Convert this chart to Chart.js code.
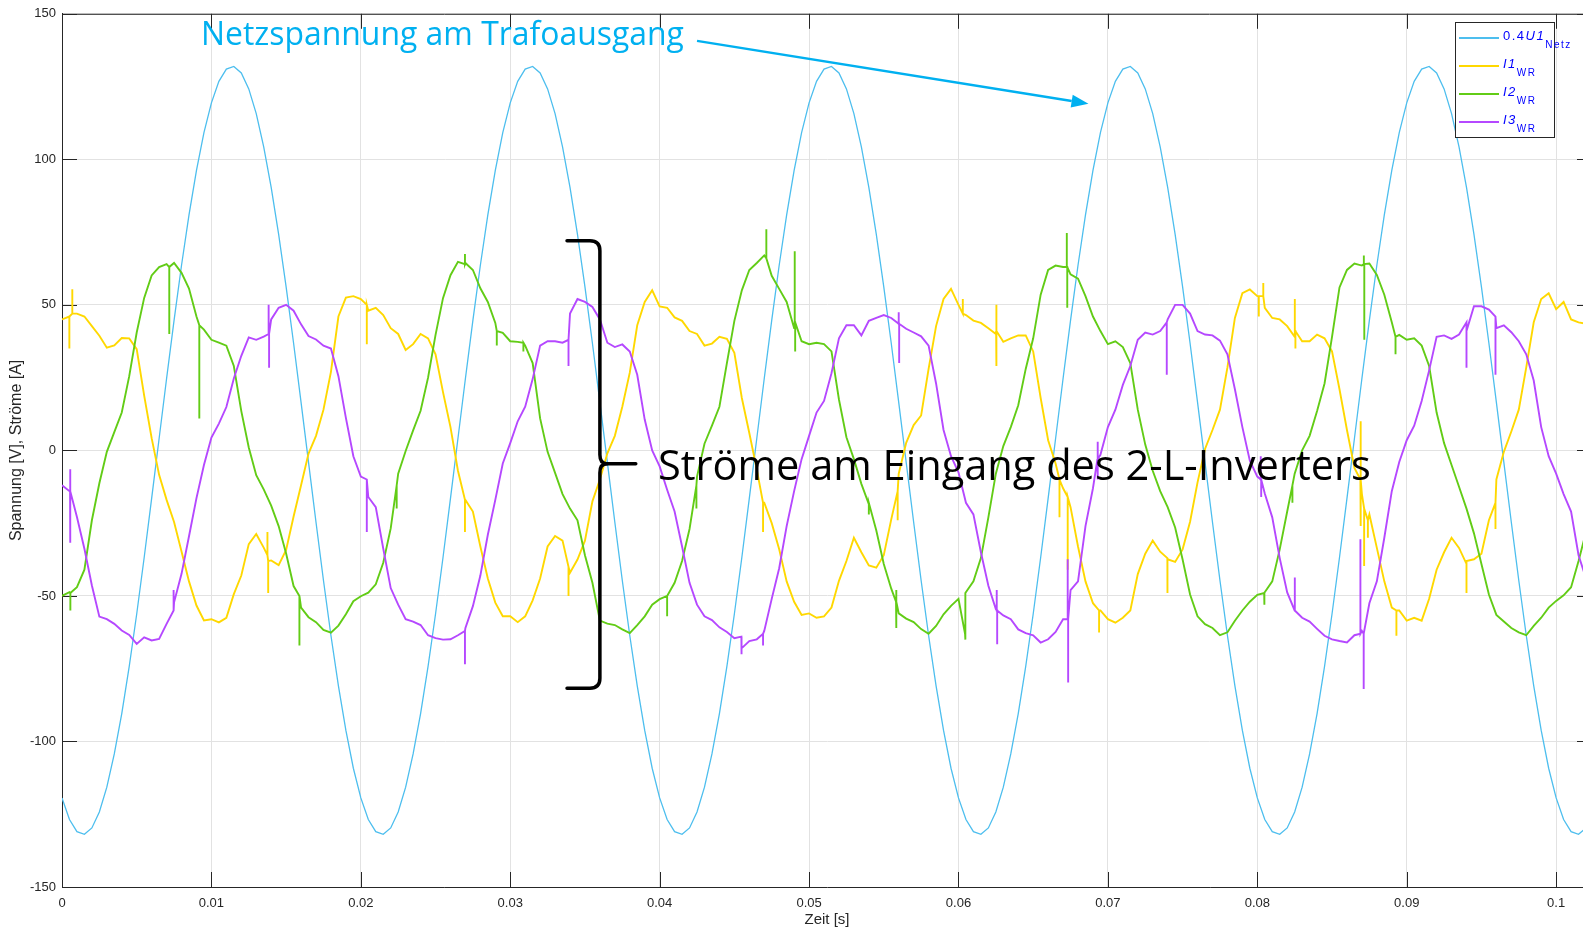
<!DOCTYPE html>
<html>
<head>
<meta charset="utf-8">
<title>Netzspannung und Wechselrichterströme</title>
<script src="https://cdn.jsdelivr.net/npm/chart.js@4.4.1/dist/chart.umd.min.js"></script>
<style>
  html, body { margin: 0; padding: 0; background: #fff; overflow: hidden; }
  #wrap { position: relative; width: 1592px; height: 928px; }
  #plot { position: absolute; left: 0; top: 0; }
  .note { position: absolute; white-space: nowrap; font-family: "Open Sans", sans-serif; line-height: 1; }
  #legendBox { position: absolute; left: 1455px; top: 22px; width: 100px; height: 116px;
               box-sizing: border-box; border: 1px solid #262626; background: #fff; }
  .lgLine { position: absolute; width: 40px; height: 1.5px; }
  .lgText { position: absolute; font-family: "Liberation Sans", Arial, sans-serif; font-size: 13px;
            line-height: 13px; letter-spacing: 1.5px; color: #0000ff; white-space: nowrap; }
  .lgText sub { font-size: 10px; vertical-align: baseline; position: relative; top: 8px; font-style: normal; }
</style>
</head>
<body>
<div id="wrap">
  <canvas id="plot" width="1592" height="928"></canvas>
  <div class="note" id="noteU" style="color:#00b0f0">Netzspannung am Trafoausgang</div>
  <div class="note" id="noteI" style="color:#000">Ströme am Eingang des 2-L-Inverters</div>
  <div id="legendBox"></div>
</div>
<script>
// Abtastschritt der Messwerte [s]
const sampleStep = 0.0005;

const xTickValues = [0, 0.01, 0.02, 0.03, 0.04, 0.05, 0.06, 0.07, 0.08, 0.09, 0.1];
const xTickLabels = ['0', '0.01', '0.02', '0.03', '0.04', '0.05', '0.06', '0.07', '0.08', '0.09', '0.1'];
const yTickValues = [-150, -100, -50, 0, 50, 100, 150];
const yTickLabels = ['-150', '-100', '-50', '0', '50', '100', '150'];

// 0.4 * U1 Netz [V]
const u1Netz = [
  -119.4,-126.8,-131.0,-131.9,-129.7,-124.2,-115.7,-104.3,-90.4,-74.2,-56.2,-36.8,-16.5,4.1,24.7,44.7,63.6,80.9,96.2,109.2,
  119.4,126.8,131.0,131.9,129.7,124.2,115.7,104.3,90.4,74.2,56.2,36.8,16.5,-4.1,-24.7,-44.7,-63.6,-80.9,-96.2,-109.2,
  -119.4,-126.8,-131.0,-131.9,-129.7,-124.2,-115.7,-104.3,-90.4,-74.2,-56.2,-36.8,-16.5,4.1,24.7,44.7,63.6,80.9,96.2,109.2,
  119.4,126.8,131.0,131.9,129.7,124.2,115.7,104.3,90.4,74.2,56.2,36.8,16.5,-4.1,-24.7,-44.7,-63.6,-80.9,-96.2,-109.2,
  -119.4,-126.8,-131.0,-131.9,-129.7,-124.2,-115.7,-104.3,-90.4,-74.2,-56.2,-36.8,-16.5,4.1,24.7,44.7,63.6,80.9,96.2,109.2,
  119.4,126.8,131.0,131.9,129.7,124.2,115.7,104.3,90.4,74.2,56.2,36.8,16.5,-4.1,-24.7,-44.7,-63.6,-80.9,-96.2,-109.2,
  -119.4,-126.8,-131.0,-131.9,-129.7,-124.2,-115.7,-104.3,-90.4,-74.2,-56.2,-36.8,-16.5,4.1,24.7,44.7,63.6,80.9,96.2,109.2,
  119.4,126.8,131.0,131.9,129.7,124.2,115.7,104.3,90.4,74.2,56.2,36.8,16.5,-4.1,-24.7,-44.7,-63.6,-80.9,-96.2,-109.2,
  -119.4,-126.8,-131.0,-131.9,-129.7,-124.2,-115.7,-104.3,-90.4,-74.2,-56.2,-36.8,-16.5,4.1,24.7,44.7,63.6,80.9,96.2,109.2,
  119.4,126.8,131.0,131.9,129.7,124.2,115.7,104.3,90.4,74.2,56.2,36.8,16.5,-4.1,-24.7,-44.7,-63.6,-80.9,-96.2,-109.2,
  -119.4,-126.8,-131.0,-131.9,-129.7
];

// Strom I1 WR [A]
const i1WR = [
  45, 46, 47, 46, 42.7, 39.4, 35.3, 36.1, 38.6, 38.5,
  34.8, 18.8, 4.2, -8.4, -17, -24.6, -34.7, -45, -53.3, -58.4,
  -58, -59.1, -57.5, -49.4, -43, -32.2, -28.7, -33.4, -37.8, -39.4,
  -34.2, -22.7, -12, -1.1, 5, 14, 27, 46, 52.5, 53,
  52, 48, 49, 46.5, 42, 40, 34.5, 36.5, 40, 38.5,
  33, 20, 8, -7, -17, -21, -33, -44, -52.3, -57,
  -57, -59, -57, -51.5, -44, -33, -29.4, -31, -42, -37.5,
  -31, -17.5, -10, -1, 5, 15, 26.7, 43, 51, 55,
  49.5, 49, 45.7, 44.5, 41, 40, 36, 36.7, 39, 38.3,
  33.5, 18, 6, -6.5, -18, -25, -34, -45, -52, -56.5,
  -56, -57.5, -57, -54, -44.8, -38, -30, -35, -39.5, -40.3,
  -36, -23.7, -8, 2.6, 8.7, 12, 28, 42.7, 52, 55.5,
  50, 46.5, 44.6, 43.8, 42, 40, 37.3, 38.5, 39.5, 39.5,
  34, 18, 3.5, -4.5, -13, -19.5, -33, -45, -52.5, -55,
  -58, -59.2, -57.5, -55, -42.5, -35.5, -31, -34.8, -37.4, -38.3,
  -34, -24.5, -11, 0.5, 7, 14, 28.5, 45.5, 54, 55.3,
  53, 49, 45.5, 45, 42.7, 39, 37.5, 37.5, 39.8, 38.5,
  34, 21, 7, -6, -15, -22, -33.5, -45, -54, -55,
  -58.5, -57.5, -58.5, -51, -41, -35, -30, -33.5, -39, -37.4,
  -35.5, -24, -10, -0.5, 6.5, 14, 28.5, 44, 52, 54,
  48.5, 51, 45, 44, 43.5
];

// Strom I2 WR [A]
const i2WR = [
  -50, -48.7, -47, -41, -24, -11.3, -0.5, 6.3, 13, 25.5,
  40.5, 52.4, 60.1, 63, 64, 64.4, 61, 55.6, 46, 41.5,
  38, 37, 36, 29, 13.5, 1, -8.5, -13.4, -19, -26,
  -35.4, -46.6, -54, -57.3, -59, -61.7, -62.6, -60.2, -56.3, -51.8,
  -50.1, -48.9, -46, -38.6, -26.8, -8, -0.2, 6.9, 13.6, 25,
  39.7, 52.3, 60.2, 64.8, 64.4, 62, 55.7, 51, 43.8, 40.4,
  37.5, 37.3, 36, 30, 11, -0.5, -7.7, -15, -20, -24,
  -36, -45.5, -58.5, -59.5, -60, -61.5, -62.8, -60, -57, -53,
  -51.1, -50, -45.5, -38, -27, -9, 2.3, 8.5, 15, 30,
  44.5, 55, 62, 64.4, 67, 60, 55.5, 51, 42, 37.5,
  36.5, 37, 36.5, 34, 17.5, 4.5, -3, -11.5, -18.5, -27.5,
  -39, -47.5, -56, -57.8, -59, -61.4, -63, -60.3, -56.3, -53.4,
  -51, -49, -45, -37, -23, -8, 1.5, 8, 15.5, 28,
  38.5, 53.5, 62, 63.5, 63, 60.5, 59, 53, 46, 41,
  36.5, 37.5, 35.5, 30, 14, 2, -7, -14, -19.5, -26.5,
  -37.5, -49.5, -57, -59.7, -61, -63.5, -62.5, -58.5, -55, -52,
  -49.6, -48.9, -45, -34, -21, -8, 0, 5, 13.5, 23,
  39, 56, 62, 64.2, 63.5, 64.2, 60.3, 53.5, 44, 39.7,
  38, 38.5, 36, 29, 13, 2.5, -5, -12.5, -20, -28.5,
  -39, -49.5, -56.5, -58.8, -61, -62.5, -63.5, -60.3, -57.5, -54,
  -51.7, -49.8, -47, -38, -28
];

// Strom I3 WR [A]
const i3WR = [
  -12, -14, -22.9, -33.8, -46.4, -57.1, -58, -59.6, -61.9, -63.4,
  -66.5, -64.2, -65.3, -64.8, -59.6, -52.2, -42.4, -29.5, -16.4, -5,
  4.4, 9.2, 14.9, 24.7, 32.5, 38.8, 38, 39.1, 45, 49,
  50, 48, 43.3, 39.3, 38.1, 36, 35, 25.5, 11.2, -2,
  -9, -16, -19.5, -33.7, -47.3, -53, -58, -58.8, -60, -63.5,
  -64.5, -65, -64.9, -63.5, -61, -53.5, -43, -29, -17, -4.5,
  2.5, 10, 15, 24.5, 36, 37.5, 37.5, 37, 47, 52,
  51, 49.3, 45, 37, 35.5, 36.4, 34, 26, 10.6, 0,
  -5.5, -13.5, -21, -33, -45.5, -53, -57, -58.3, -60.8, -62.4,
  -64.5, -68, -65.5, -64.9, -62, -51, -40.5, -26, -14, -3,
  5, 13, 17, 26.5, 38.5, 43, 43, 39.5, 44.5, 45.5,
  46.5, 45.5, 43.5, 41.8, 40.5, 39.2, 36, 23, 7, -2,
  -7.5, -18, -22, -35, -46.5, -54.5, -56.7, -58, -61.5, -62.8,
  -63.5, -66, -64.9, -62.4, -58, -48, -45, -26, -13, -1.5,
  8, 14, 22.5, 29, 38, 40.5, 39.8, 41, 45, 50,
  50, 47, 41, 39.8, 39.5, 37.7, 33, 21, 8, -3.5,
  -9, -14.8, -23, -37, -48.8, -55, -57.5, -58.8, -61.3, -63.7,
  -64.9, -65.5, -66, -63.5, -62, -52.5, -45, -30, -14, -4,
  3.5, 8.5, 17, 27.5, 39, 39.5, 38.3, 39.8, 44, 49.5,
  49.5, 48.4, 42, 43, 40.6, 37.5, 33, 24, 8, -2,
  -8, -15, -21, -36, -44
];

// Schaltspitzen: [Zeit, Ausgangswert, Spitzenwert]
const i1Spikes = [
  [0.00049, 46, 35], [0.00069, 47, 55.4], [0.01375, -36, -28], [0.0138, -38, -49],
  [0.0204, 50, 36.5], [0.02697, -17, -28], [0.0339, -40, -50], [0.04692, -18, -28],
  [0.05593, -14, -24], [0.06029, 47, 52], [0.06252, 41, 50], [0.06255, 41, 29],
  [0.06676, -10, -23], [0.06731, -16, -41], [0.06941, -55, -62.6], [0.07398, -37, -49],
  [0.0801, 53, 46], [0.0804, 53, 57.5], [0.08251, 41, 52], [0.08255, 41, 35],
  [0.0869, -10, 10], [0.08693, -10, -26], [0.08715, -20, -39.7], [0.0874, -24, -30],
  [0.08931, -55, -63.7], [0.094, -38, -49], [0.09594, -18, -27]
];
const i2Spikes = [
  [0.00056, -49, -55], [0.00718, 63, 40], [0.00919, 43, 11], [0.01589, -50, -67],
  [0.0224, -12, -20], [0.02697, 64, 67.5], [0.0291, 41, 36], [0.03088, 37, 34],
  [0.0405, -50, -57], [0.04246, -12, -20], [0.04714, 66, 76], [0.04904, 44, 68.4],
  [0.04907, 44, 34], [0.054, -18, -22], [0.05582, -52, -61], [0.05585, -52, -48],
  [0.06044, -63, -65], [0.06725, 63, 74.7], [0.06728, 63, 49], [0.08046, -49, -53],
  [0.08235, -12, -18], [0.08713, 64, 67], [0.08716, 64, 38], [0.08925, 39, 33]
];
const i3Spikes = [
  [0.00054, -14, -6.5], [0.00056, -14, -31.7], [0.00747, -55, -48], [0.01383, 40, 50],
  [0.01386, 40, 28.4], [0.0204, -10, -28], [0.02697, -62, -73.5], [0.0339, 38, 29],
  [0.04547, -64, -70], [0.04692, -63, -67], [0.056, 43.5, 47.5], [0.05603, 43.5, 30],
  [0.06256, -55, -48], [0.06259, -55, -66.6], [0.06731, -58, -37.4], [0.06734, -58, -79.7],
  [0.0693, -3, 3], [0.06933, -3, -10], [0.07394, 44, 26], [0.08023, -10, -2],
  [0.08026, -10, -16], [0.08251, -55, -43.7], [0.0869, -63, -30.5], [0.08712, -63, -82],
  [0.094, 41, 28.4], [0.09594, 46, 26]
];

const seriesColors = { u1: '#4dbeee', i1: '#ffd800', i2: '#62cc16', i3: '#b548ff' };

// Messwerte und Spitzen zu einer zeitlich sortierten Punktfolge zusammenführen
function buildPoints(values, spikes) {
  const pts = values.map((v, k) => ({ x: +(k * sampleStep).toFixed(5), y: v }));
  spikes.forEach(([t, base, peak]) => {
    pts.push({ x: t, y: base }, { x: t, y: peak }, { x: t, y: base });
  });
  return pts.sort((a, b) => a.x - b.x);
}

const axisFont = '"Liberation Sans", Arial, Helvetica, sans-serif';
const axisColor = '#262626';

// Achsenrahmen mit nach innen zeigenden Teilstrichen (oben, unten, links, rechts)
const axesFrame = {
  id: 'axesFrame',
  beforeDatasetsDraw(chart) {
    const { ctx, chartArea: a, scales: { x, y } } = chart;
    const len = 15;
    ctx.save();
    ctx.strokeStyle = axisColor;
    ctx.lineWidth = 1;
    ctx.beginPath();
    ctx.moveTo(a.left, a.top + 0.5); ctx.lineTo(a.right, a.top + 0.5);
    ctx.moveTo(a.right - 0.5, a.top); ctx.lineTo(a.right - 0.5, a.bottom);
    xTickValues.forEach(v => {
      const px = Math.round(x.getPixelForValue(v)) + 0.5;
      ctx.moveTo(px, a.bottom); ctx.lineTo(px, a.bottom - len);
      ctx.moveTo(px, a.top); ctx.lineTo(px, a.top + len);
    });
    yTickValues.forEach(v => {
      const py = Math.round(y.getPixelForValue(v)) + 0.5;
      ctx.moveTo(a.left, py); ctx.lineTo(a.left + len, py);
      ctx.moveTo(a.right, py); ctx.lineTo(a.right - len, py);
    });
    ctx.stroke();
    ctx.restore();
  }
};

// Hinweispfeil zur Netzspannung und geschweifte Klammer um die Ströme
const annotationShapes = {
  id: 'annotationShapes',
  afterDatasetsDraw(chart) {
    const { ctx, scales: { x, y } } = chart;
    const P = (t, v) => [x.getPixelForValue(t), y.getPixelForValue(v)];

    // Pfeil
    const [ax, ay] = P(0.0425, 140.7);
    const [bx, by] = P(0.0687, 119.1);
    const ang = Math.atan2(by - ay, bx - ax);
    const head = 17, half = 6.5;
    const hx = bx - head * Math.cos(ang), hy = by - head * Math.sin(ang);
    ctx.save();
    ctx.strokeStyle = '#00b0f0';
    ctx.fillStyle = '#00b0f0';
    ctx.lineWidth = 2.5;
    ctx.beginPath(); ctx.moveTo(ax, ay); ctx.lineTo(hx, hy); ctx.stroke();
    ctx.beginPath();
    ctx.moveTo(bx, by);
    ctx.lineTo(hx + half * Math.sin(ang), hy - half * Math.cos(ang));
    ctx.lineTo(hx - half * Math.sin(ang), hy + half * Math.cos(ang));
    ctx.closePath(); ctx.fill();

    // Klammer
    const [xl] = P(0.0360, 0);
    const [xh] = P(0.0338, 0);
    const [xt] = P(0.0384, 0);
    const [, yTop] = P(0, 72);
    const [, yMid] = P(0, -4.6);
    const [, yBot] = P(0, -81.7);
    ctx.strokeStyle = '#000';
    ctx.lineWidth = 3.5;
    ctx.lineJoin = 'round';
    ctx.lineCap = 'round';
    ctx.beginPath();
    ctx.moveTo(xh, yTop);
    ctx.lineTo(xl - 10, yTop);
    ctx.quadraticCurveTo(xl, yTop, xl, yTop + 10);
    ctx.lineTo(xl, yMid - 9);
    ctx.quadraticCurveTo(xl, yMid, xl + 7, yMid);
    ctx.quadraticCurveTo(xl, yMid, xl, yMid + 9);
    ctx.lineTo(xl, yBot - 10);
    ctx.quadraticCurveTo(xl, yBot, xl - 10, yBot);
    ctx.lineTo(xh, yBot);
    ctx.stroke();
    ctx.beginPath();
    ctx.moveTo(xl + 5, yMid); ctx.lineTo(xt, yMid);
    ctx.stroke();
    ctx.restore();
  }
};

const lineBase = { pointRadius: 0, pointHoverRadius: 0, tension: 0, fill: false };

const chart = new Chart(document.getElementById('plot'), {
  type: 'line',
  data: {
    datasets: [
      { ...lineBase, label: '0.4 U1 Netz', data: buildPoints(u1Netz, []), borderColor: seriesColors.u1, borderWidth: 1.3, order: 4 },
      { ...lineBase, label: 'I1 WR', data: buildPoints(i1WR, i1Spikes), borderColor: seriesColors.i1, borderWidth: 1.9, order: 3 },
      { ...lineBase, label: 'I2 WR', data: buildPoints(i2WR, i2Spikes), borderColor: seriesColors.i2, borderWidth: 1.9, order: 2 },
      { ...lineBase, label: 'I3 WR', data: buildPoints(i3WR, i3Spikes), borderColor: seriesColors.i3, borderWidth: 1.9, order: 1 }
    ]
  },
  options: {
    responsive: false,
    animation: false,
    events: [],
    layout: { padding: { top: 12, left: 0, right: 0, bottom: 0 } },
    plugins: { legend: { display: false }, tooltip: { enabled: false } },
    scales: {
      x: {
        type: 'linear',
        min: 0,
        max: 0.1024,
        afterBuildTicks: s => { s.ticks = xTickValues.map(v => ({ value: v })); },
        afterFit: s => { s.height = 41; },
        ticks: {
          callback: (v, i) => xTickLabels[i],
          color: axisColor, font: { family: axisFont, size: 13 }, padding: 9, maxRotation: 0, autoSkip: false
        },
        grid: { color: '#e2e2e2', lineWidth: 1, drawTicks: false },
        border: { display: true, color: axisColor, width: 1 },
        title: { display: true, text: 'Zeit [s]', color: axisColor, font: { family: axisFont, size: 15, lineHeight: 1 }, padding: { top: 0, bottom: 1 } }
      },
      y: {
        type: 'linear',
        min: -150,
        max: 150,
        afterBuildTicks: s => { s.ticks = yTickValues.map(v => ({ value: v })); },
        afterFit: s => { s.width = 62; },
        ticks: {
          callback: (v, i) => yTickLabels[i],
          color: axisColor, font: { family: axisFont, size: 13 }, padding: 6, autoSkip: false
        },
        grid: { color: '#e2e2e2', lineWidth: 1, drawTicks: false },
        border: { display: true, color: axisColor, width: 1 },
        title: { display: true, text: 'Spannung [V], Ströme [A]', color: axisColor, font: { family: axisFont, size: 16, lineHeight: 1 }, padding: { top: 9, bottom: 0 } }
      }
    }
  },
  plugins: [axesFrame, annotationShapes]
});

// Beschriftungen: Schriftgröße so wählen, dass der Text die vorgesehene Breite füllt
function placeNote(id, leftT, baseV, widthPx) {
  const el = document.getElementById(id);
  const m = document.createElement('canvas').getContext('2d');
  m.font = '100px "Open Sans"';
  const fs = widthPx / m.measureText(el.textContent).width * 100;
  const left = chart.scales.x.getPixelForValue(leftT);
  const base = chart.scales.y.getPixelForValue(baseV);
  el.style.fontSize = fs.toFixed(2) + 'px';
  el.style.left = left.toFixed(1) + 'px';
  el.style.top = (base - 0.888 * fs).toFixed(1) + 'px';
}
placeNote('noteU', 0.0093, 139.3, 483);
placeNote('noteI', 0.03989, -10.5, 713);

// Legende
const legendItems = [
  { color: seriesColors.u1, html: '0.4<i>U1</i><sub>Netz</sub>' },
  { color: seriesColors.i1, html: '<i>I1</i><sub>WR</sub>' },
  { color: seriesColors.i2, html: '<i>I2</i><sub>WR</sub>' },
  { color: seriesColors.i3, html: '<i>I3</i><sub>WR</sub>' }
];
const wrap = document.getElementById('wrap');
legendItems.forEach((it, i) => {
  const rowY = 37.7 + i * 28.1;
  const ln = document.createElement('div');
  ln.className = 'lgLine';
  ln.style.left = '1459px';
  ln.style.top = (rowY - 0.75).toFixed(1) + 'px';
  ln.style.background = it.color;
  wrap.appendChild(ln);
  const tx = document.createElement('div');
  tx.className = 'lgText';
  tx.style.left = '1503px';
  tx.style.top = (rowY + 2.3 - 11).toFixed(1) + 'px';
  tx.innerHTML = it.html;
  wrap.appendChild(tx);
});
</script>
</body>
</html>
